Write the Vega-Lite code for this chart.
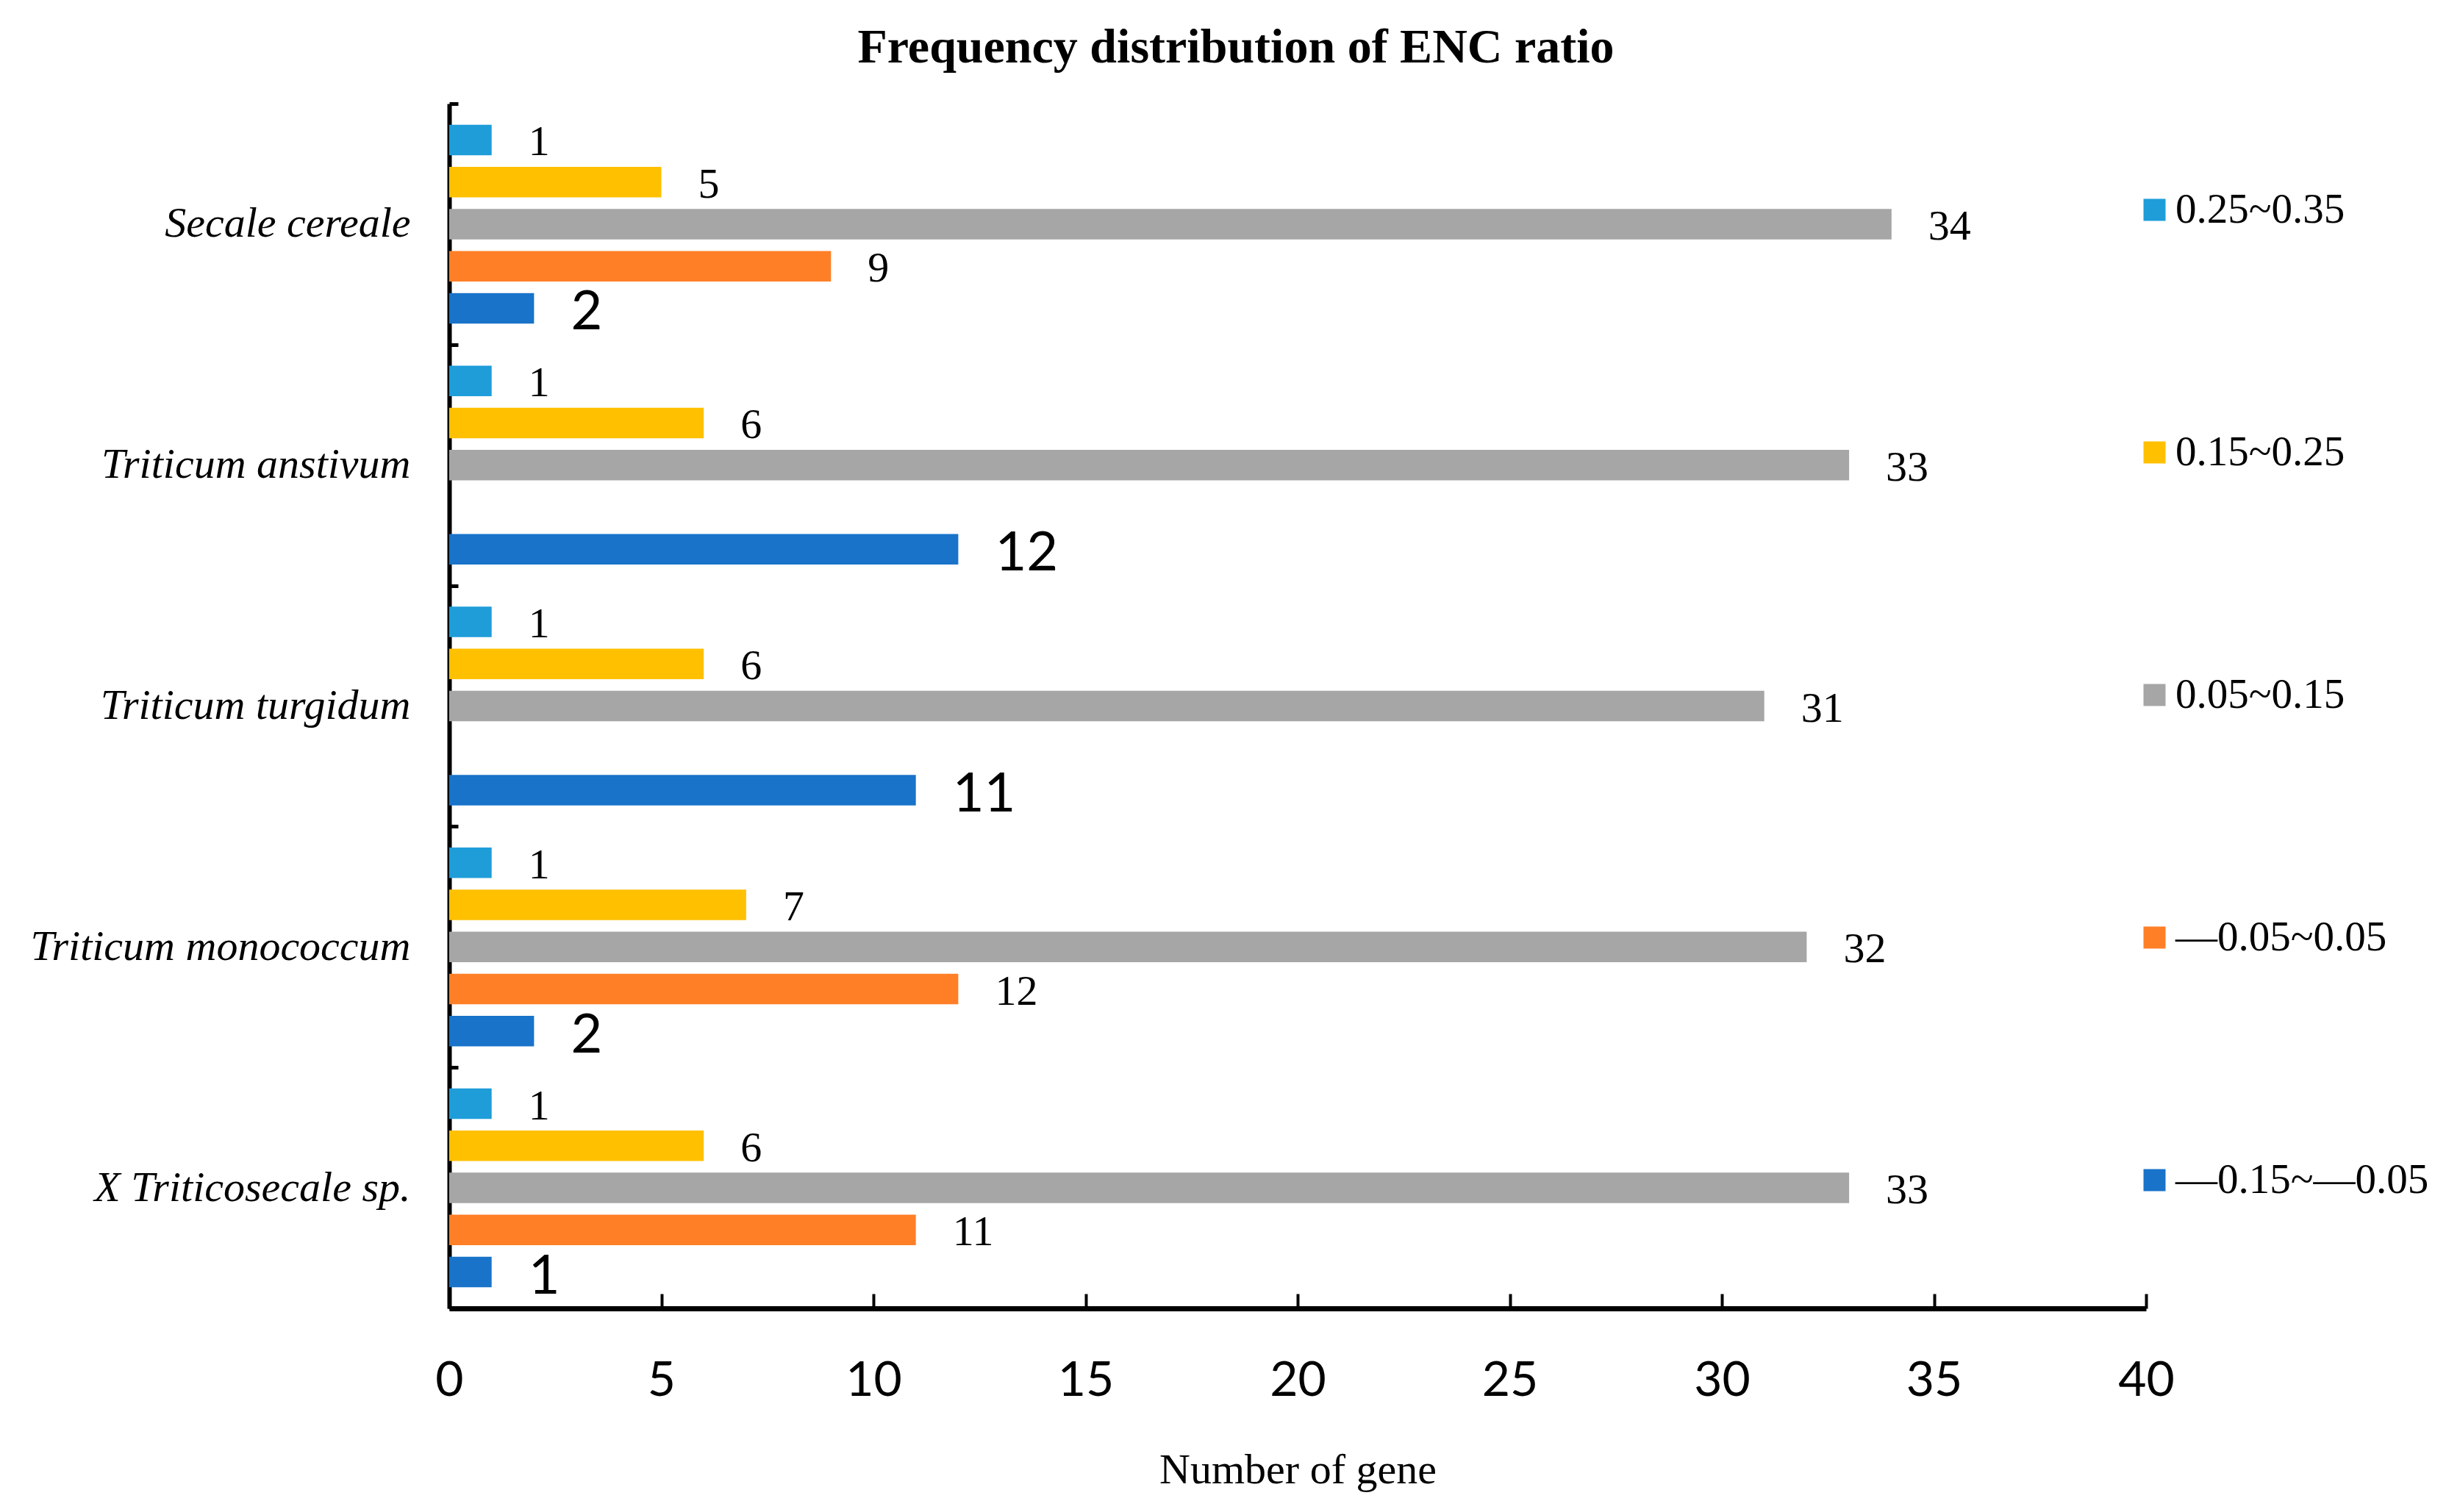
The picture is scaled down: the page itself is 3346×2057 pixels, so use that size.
{
  "$schema": "https://vega.github.io/schema/vega-lite/v6.json",
  "autosize": {"type": "none"},
  "padding": {"left": 611, "top": 141, "right": 427, "bottom": 277},
  "width": 2308,
  "height": 1639,
  "background": "white",
  "title": {
    "text": "Frequency distribution of ENC ratio",
    "font": "Liberation Serif",
    "fontSize": 66,
    "fontWeight": "bold",
    "color": "black",
    "anchor": "middle",
    "frame": "group",
    "dx": -84,
    "dy": 54,
    "baseline": "alphabetic",
    "offset": 15
  },
  "data": {
    "values": [
      {"species": "Secale cereale", "range": "0.25~0.35", "count": 1},
      {"species": "Secale cereale", "range": "0.15~0.25", "count": 5},
      {"species": "Secale cereale", "range": "0.05~0.15", "count": 34},
      {"species": "Secale cereale", "range": "—0.05~0.05", "count": 9},
      {"species": "Secale cereale", "range": "—0.15~—0.05", "count": 2},
      {"species": "Triticum anstivum", "range": "0.25~0.35", "count": 1},
      {"species": "Triticum anstivum", "range": "0.15~0.25", "count": 6},
      {"species": "Triticum anstivum", "range": "0.05~0.15", "count": 33},
      {"species": "Triticum anstivum", "range": "—0.15~—0.05", "count": 12},
      {"species": "Triticum turgidum", "range": "0.25~0.35", "count": 1},
      {"species": "Triticum turgidum", "range": "0.15~0.25", "count": 6},
      {"species": "Triticum turgidum", "range": "0.05~0.15", "count": 31},
      {"species": "Triticum turgidum", "range": "—0.15~—0.05", "count": 11},
      {"species": "Triticum monococcum", "range": "0.25~0.35", "count": 1},
      {"species": "Triticum monococcum", "range": "0.15~0.25", "count": 7},
      {"species": "Triticum monococcum", "range": "0.05~0.15", "count": 32},
      {"species": "Triticum monococcum", "range": "—0.05~0.05", "count": 12},
      {"species": "Triticum monococcum", "range": "—0.15~—0.05", "count": 2},
      {"species": "X Triticosecale sp.", "range": "0.25~0.35", "count": 1},
      {"species": "X Triticosecale sp.", "range": "0.15~0.25", "count": 6},
      {"species": "X Triticosecale sp.", "range": "0.05~0.15", "count": 33},
      {"species": "X Triticosecale sp.", "range": "—0.05~0.05", "count": 11},
      {"species": "X Triticosecale sp.", "range": "—0.15~—0.05", "count": 1}
    ]
  },
  "encoding": {
    "y": {
      "field": "species",
      "type": "nominal",
      "sort": ["Secale cereale", "Triticum anstivum", "Triticum turgidum", "Triticum monococcum", "X Triticosecale sp."],
      "scale": {"paddingInner": 0, "paddingOuter": 0},
      "axis": {
        "title": null,
        "tickBand": "extent",
        "domainColor": "black",
        "domainWidth": 6,
        "tickColor": "black",
        "tickWidth": 5,
        "tickSize": -12,
        "labelFont": "Liberation Serif",
        "labelFontStyle": "italic",
        "labelFontSize": 58,
        "labelColor": "black",
        "labelPadding": 65,
        "labelLimit": 0
      }
    },
    "yOffset": {
      "field": "range",
      "type": "nominal",
      "sort": ["0.25~0.35", "0.15~0.25", "0.05~0.15", "—0.05~0.05", "—0.15~—0.05"],
      "scale": {"paddingInner": 0.275, "paddingOuter": 0.5}
    },
    "x": {
      "field": "count",
      "type": "quantitative",
      "scale": {"domain": [0, 40], "nice": false},
      "axis": {
        "title": "Number of gene",
        "titleFont": "Liberation Serif",
        "titleFontSize": 58,
        "titleFontWeight": "normal",
        "titleColor": "black",
        "titlePadding": 60,
        "values": [0, 5, 10, 15, 20, 25, 30, 35, 40],
        "grid": false,
        "domainColor": "black",
        "domainWidth": 7,
        "tickColor": "black",
        "tickWidth": 4,
        "tickSize": -20,
        "labelFont": "Lato",
        "labelFontSize": 66,
        "labelColor": "black",
        "labelPadding": 86,
        "labelFlush": false
      }
    }
  },
  "layer": [
    {
      "mark": {"type": "bar"},
      "encoding": {
        "color": {
          "field": "range",
          "type": "nominal",
          "scale": {
            "domain": ["0.25~0.35", "0.15~0.25", "0.05~0.15", "—0.05~0.05", "—0.15~—0.05"],
            "range": ["#1E9DD9", "#FFC000", "#A6A6A6", "#FF7F27", "#1873C9"]
          },
          "legend": {
            "title": null,
            "orient": "none",
            "legendX": 2291,
            "legendY": 116,
            "padding": 0,
            "symbolType": "square",
            "symbolSize": 900,
            "symbolStrokeWidth": 0,
            "labelFont": "Liberation Serif",
            "labelFontSize": 57,
            "labelColor": "black",
            "labelOffset": 0,
            "labelLimit": 0,
            "rowPadding": 272
          }
        }
      }
    },
    {
      "transform": [{"filter": "datum.range != '—0.15~—0.05'"}],
      "mark": {"type": "text", "align": "left", "baseline": "alphabetic", "dx": 50, "dy": 21, "font": "Liberation Serif", "fontSize": 58, "color": "black"},
      "encoding": {"text": {"field": "count", "type": "quantitative"}}
    },
    {
      "transform": [{"filter": "datum.range == '—0.15~—0.05'"}],
      "mark": {"type": "text", "align": "left", "baseline": "alphabetic", "dx": 50, "dy": 29, "font": "Lato", "fontSize": 74, "color": "black"},
      "encoding": {"text": {"field": "count", "type": "quantitative"}}
    }
  ],
  "config": {"view": {"stroke": null}}
}
